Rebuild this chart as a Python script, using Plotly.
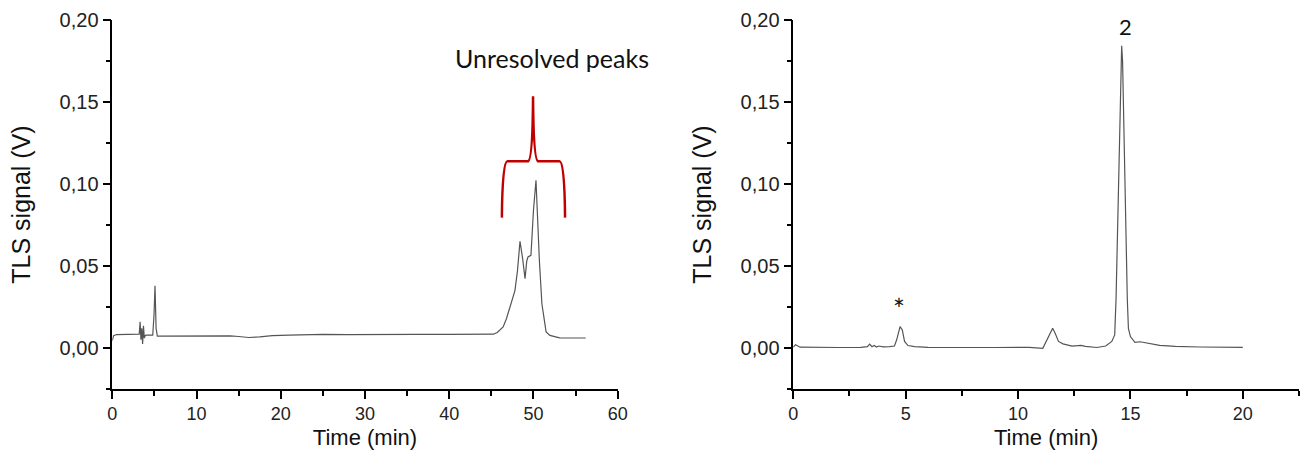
import plotly.graph_objects as go

# ---- Left chromatogram (unresolved) ----
left_time = [0, 0.15, 0.5, 2.0, 3.0, 3.2, 3.3, 3.4, 3.5, 3.6, 3.7, 3.8, 3.9, 4.0, 4.8, 4.95,
             5.07, 5.2, 5.35, 6, 8, 10, 12, 14, 15, 16.2, 17.5, 19, 21, 23, 25, 28, 30, 33,
             36, 40, 43, 45.25, 45.7, 46.4, 46.8, 47.2, 47.8, 48.1, 48.4, 48.7, 49.0, 49.2,
             49.35, 49.7, 50.0, 50.3, 50.5, 50.7, 51.0, 51.3, 51.5, 51.95, 52.5, 53.1, 56.2]
left_signal = [0.0045, 0.0075, 0.0082, 0.0083, 0.0083, 0.0085, 0.016, 0.005, 0.012, 0.0025,
               0.0135, 0.006, 0.0075, 0.0078, 0.0078, 0.02, 0.038, 0.012, 0.0072, 0.0072,
               0.0075, 0.0074, 0.0072, 0.0074, 0.0070, 0.0064, 0.0068, 0.0075, 0.0078, 0.0081,
               0.0083, 0.0082, 0.0083, 0.0083, 0.0083, 0.0083, 0.0083, 0.0084, 0.0095, 0.0128,
               0.018, 0.025, 0.035, 0.047, 0.065, 0.055, 0.0423, 0.053, 0.0555, 0.0565, 0.084,
               0.1023, 0.074, 0.0535, 0.027, 0.0149, 0.0098, 0.0077, 0.0071, 0.0062, 0.0061]

# ---- Right chromatogram ----
right_time = [0, 0.1, 0.3, 1, 2, 3, 3.3, 3.4, 3.5, 3.6, 3.7, 3.8, 4.0, 4.3, 4.5, 4.6, 4.7,
              4.75, 4.85, 4.95, 5.1, 5.4, 6, 7, 8, 9, 10, 10.5, 11.1, 11.25, 11.4, 11.54,
              11.65, 11.8, 12.0, 12.4, 12.8, 13.0, 13.5, 13.9, 14.17, 14.3, 14.36, 14.42,
              14.5, 14.58, 14.61, 14.65, 14.72, 14.79, 14.86, 14.91, 15.0, 15.2, 15.43,
              16.3, 17, 18.1, 19, 20]
right_signal = [0.0005, 0.002, 0.0005, 0.0003, 0.0003, 0.0004, 0.0008, 0.0024, 0.0008,
                0.0015, 0.0006, 0.0012, 0.0007, 0.0008, 0.0012, 0.005, 0.011, 0.013, 0.011,
                0.004, 0.0015, 0.0008, 0.0004, 0.0002, 0.0003, 0.0003, 0.0004, 0.0004,
                -0.0002, 0.004, 0.009, 0.012, 0.009, 0.004, 0.0025, 0.0012, 0.0016, 0.001,
                0.0003, 0.0012, 0.004, 0.008, 0.03, 0.07, 0.13, 0.178, 0.1843, 0.175, 0.12,
                0.07, 0.03, 0.012, 0.007, 0.0035, 0.0038, 0.0016, 0.001, 0.0006, 0.0005, 0.0004]

y_title = "TLS signal (V)"
x_title = "Time (min)"

line_color = "#555555"
axis_font = "Liberation Sans, Arial, sans-serif"
note_font = "Lato, Open Sans, sans-serif"

fig = go.Figure()
fig.add_trace(go.Scatter(x=left_time, y=left_signal, mode="lines",
                         line=dict(color=line_color, width=1.2), xaxis="x", yaxis="y",
                         showlegend=False, hoverinfo="skip"))
fig.add_trace(go.Scatter(x=right_time, y=right_signal, mode="lines",
                         line=dict(color=line_color, width=1.2), xaxis="x2", yaxis="y2",
                         showlegend=False, hoverinfo="skip"))

W, H = 1303, 460
ydom = [1 - 389 / H, 1 - 20 / H]

def xaxis_cfg(domain, rng, dtick, minor_dtick, anchor):
    return dict(domain=domain, range=rng, anchor=anchor, dtick=dtick, tick0=0,
                automargin=False,
                showline=True, linecolor="black", linewidth=1.5, ticks="outside",
                ticklen=8, tickwidth=1.5, tickcolor="black", showgrid=False, zeroline=False,
                minor=dict(dtick=minor_dtick, tick0=0, ticks="outside", ticklen=5,
                           tickwidth=1.5, tickcolor="black", showgrid=False),
                tickfont=dict(family=axis_font, size=18, color="#222"),
                title=dict(text=x_title, font=dict(family=axis_font, size=22, color="#111"),
                           standoff=6))

def yaxis_cfg(anchor):
    return dict(domain=ydom, range=[-0.025, 0.20], anchor=anchor, dtick=0.05, tick0=0,
                automargin=False,
                tickformat=".2f", showline=True, linecolor="black", linewidth=1.5,
                ticks="outside", ticklen=8, tickwidth=1.5, tickcolor="black",
                showgrid=False, zeroline=False,
                minor=dict(dtick=0.025, tick0=0, ticks="outside", ticklen=5, tickwidth=1.5,
                           tickcolor="black", showgrid=False),
                tickfont=dict(family=axis_font, size=20, color="#222"),
                title=dict(text=y_title, font=dict(family=axis_font, size=25, color="#111"),
                           standoff=22))

fig.update_layout(
    width=W, height=H, margin=dict(l=0, r=0, t=0, b=0),
    paper_bgcolor="white", plot_bgcolor="white",
    separators=",.",
    xaxis=xaxis_cfg([112.3 / W, 617.7 / W], [0, 60], 10, 5, "y"),
    yaxis=yaxis_cfg("x"),
    xaxis2=xaxis_cfg([793.3 / W, 1299 / W], [0, 22.5], 5, 2.5, "y2"),
    yaxis2=yaxis_cfg("x2"),
)

# red bracket over the unresolved peaks
bracket = ("M 46.25,0.0795 Q 46.3,0.1138 46.9,0.1138 L 49.35,0.1138 "
           "Q 49.9,0.1145 49.95,0.1535 Q 50.0,0.1145 50.55,0.1138 L 53.1,0.1138 "
           "Q 53.7,0.1138 53.75,0.0795")
fig.add_shape(type="path", path=bracket, xref="x", yref="y",
              line=dict(color="#c00000", width=2.5))

fig.add_annotation(x=52.2, y=0.177, xref="x", yref="y", text="Unresolved peaks",
                   showarrow=False, font=dict(family=note_font, size=25, color="#111"))
fig.add_annotation(x=4.72, y=0.024, xref="x2", yref="y2", text="*",
                   showarrow=False, font=dict(family=note_font, size=28, color="#111"))
fig.add_annotation(x=14.76, y=0.1963, xref="x2", yref="y2", text="2",
                   showarrow=False, font=dict(family=note_font, size=22, color="#111"))

fig.write_html("out.html")
